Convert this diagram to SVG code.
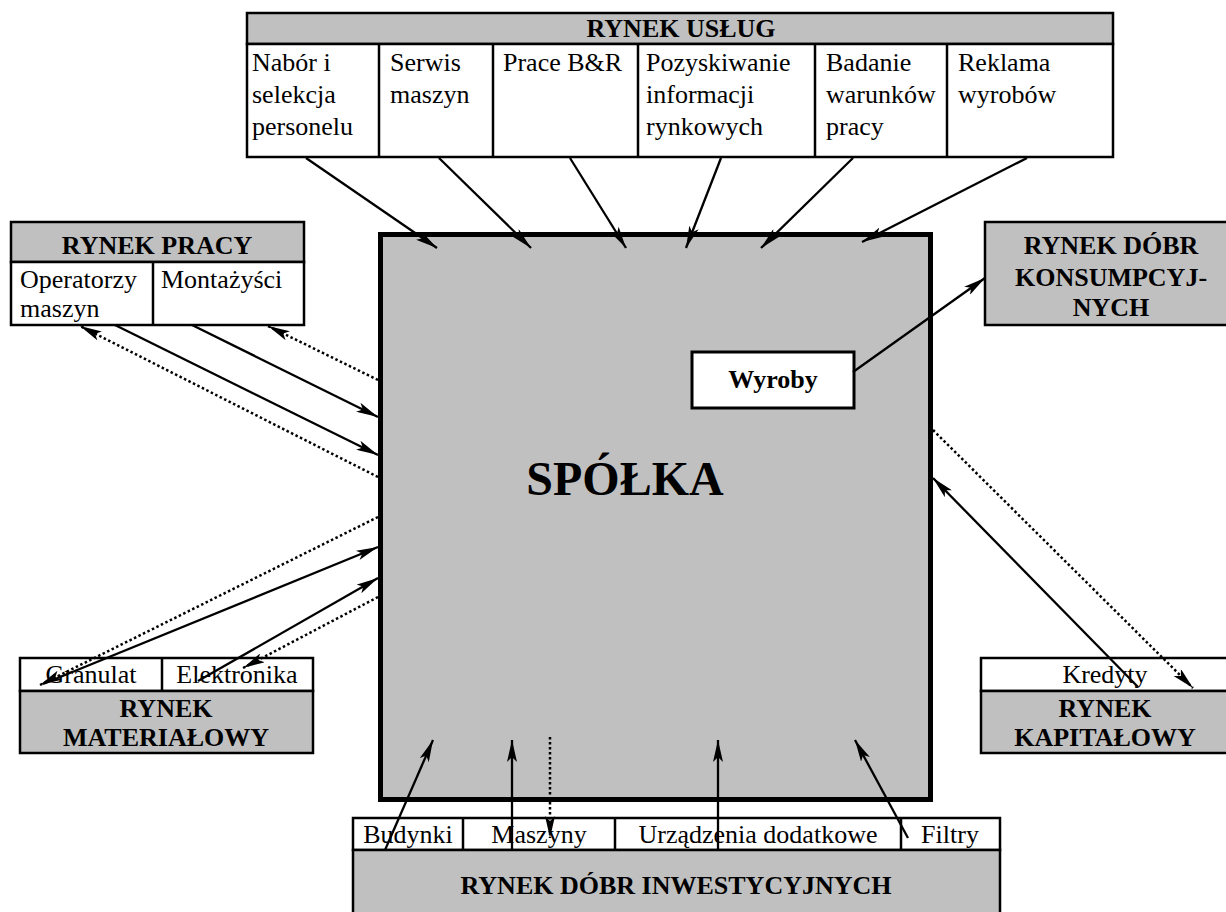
<svg xmlns="http://www.w3.org/2000/svg" width="1226" height="912" viewBox="0 0 1226 912">
<defs>
<marker id="ah" viewBox="0 0 22 10" refX="22" refY="5" markerWidth="22" markerHeight="10" markerUnits="userSpaceOnUse" orient="auto">
<path d="M0,0 L22,5 L0,10 L5,5 z" fill="#000" stroke="none"/>
</marker>
<style>
.t{font-family:"Liberation Serif","Times New Roman",serif;font-size:26px;fill:#000}
.b{font-family:"Liberation Serif","Times New Roman",serif;font-size:26px;font-weight:bold;fill:#000}
.c{text-anchor:middle}
.box{fill:#fff;stroke:#000;stroke-width:2.5}
.gray{fill:#c0c0c0;stroke:#000;stroke-width:2.5}
.ln{stroke:#000;stroke-width:2.5;fill:none}
.s{stroke:#000;stroke-width:2.3;fill:none;marker-end:url(#ah)}
.d{stroke:#000;stroke-width:2.5;fill:none;stroke-dasharray:2.5 2.5;marker-end:url(#ah)}
</style>
</defs>
<rect width="1226" height="912" fill="#fff"/>

<g id="spolka">
<rect x="380.5" y="234.5" width="550" height="565" fill="#c0c0c0" stroke="#000" stroke-width="5"/>
<text class="b c" x="625" y="495" style="font-size:48px">SPÓŁKA</text>
</g>

<g id="wyroby">
<rect x="692" y="352" width="162" height="56" fill="#fff" stroke="#000" stroke-width="3"/>
<text class="b c" x="773" y="388">Wyroby</text>
</g>

<g id="rynek-uslug">
<rect class="gray" x="247" y="13" width="866" height="31"/>
<rect class="box" x="247" y="44" width="866" height="113"/>
<line class="ln" x1="379" y1="44" x2="379" y2="157"/>
<line class="ln" x1="493" y1="44" x2="493" y2="157"/>
<line class="ln" x1="638" y1="44" x2="638" y2="157"/>
<line class="ln" x1="815" y1="44" x2="815" y2="157"/>
<line class="ln" x1="947" y1="44" x2="947" y2="157"/>
<text class="b c" x="681" y="37">RYNEK USŁUG</text>
<text class="t" x="252" y="71">Nabór i</text>
<text class="t" x="252" y="103">selekcja</text>
<text class="t" x="252" y="135">personelu</text>
<text class="t" x="390" y="71">Serwis</text>
<text class="t" x="390" y="103">maszyn</text>
<text class="t" x="503" y="71">Prace B&amp;R</text>
<text class="t" x="646" y="71">Pozyskiwanie</text>
<text class="t" x="646" y="103">informacji</text>
<text class="t" x="646" y="135">rynkowych</text>
<text class="t" x="826" y="71">Badanie</text>
<text class="t" x="826" y="103">warunków</text>
<text class="t" x="826" y="135">pracy</text>
<text class="t" x="958" y="71">Reklama</text>
<text class="t" x="958" y="103">wyrobów</text>
</g>

<g id="rynek-pracy">
<rect class="gray" x="11" y="222" width="293" height="40"/>
<rect class="box" x="11" y="262" width="293" height="63"/>
<line class="ln" x1="153" y1="262" x2="153" y2="325"/>
<text class="b c" x="157" y="254">RYNEK PRACY</text>
<text class="t" x="20" y="288">Operatorzy</text>
<text class="t" x="20" y="317">maszyn</text>
<text class="t" x="161" y="288">Montażyści</text>
</g>

<g id="rynek-materialowy">
<rect class="box" x="20" y="658" width="293" height="33"/>
<rect class="gray" x="20" y="691" width="293" height="62"/>
<line class="ln" x1="162" y1="658" x2="162" y2="691"/>
<text class="t c" x="91" y="683">Granulat</text>
<text class="t c" x="237" y="683">Elektronika</text>
<text class="b c" x="166" y="717">RYNEK</text>
<text class="b c" x="166" y="746">MATERIAŁOWY</text>
</g>

<g id="rynek-konsumpcyjny">
<rect class="gray" x="985" y="222" width="256" height="103"/>
<text class="b c" x="1111" y="254">RYNEK DÓBR</text>
<text class="b c" x="1111" y="286">KONSUMPCYJ-</text>
<text class="b c" x="1111" y="316">NYCH</text>
</g>

<g id="rynek-kapitalowy">
<rect class="box" x="981" y="658" width="255" height="33"/>
<rect class="gray" x="981" y="691" width="255" height="62"/>
<text class="t c" x="1105" y="683">Kredyty</text>
<text class="b c" x="1105" y="717">RYNEK</text>
<text class="b c" x="1105" y="746">KAPITAŁOWY</text>
</g>

<g id="rynek-inwestycyjny">
<rect class="box" x="353" y="818" width="647" height="32"/>
<rect class="gray" x="353" y="850" width="647" height="70"/>
<line class="ln" x1="463" y1="818" x2="463" y2="850"/>
<line class="ln" x1="615" y1="818" x2="615" y2="850"/>
<line class="ln" x1="901" y1="818" x2="901" y2="850"/>
<text class="t c" x="408" y="843">Budynki</text>
<text class="t c" x="539" y="843">Maszyny</text>
<text class="t c" x="758" y="843">Urządzenia dodatkowe</text>
<text class="t c" x="950" y="843">Filtry</text>
<text class="b c" x="676" y="894">RYNEK DÓBR INWESTYCYJNYCH</text>
</g>

<g id="connectors">
<line class="s" x1="306" y1="158" x2="437" y2="248"/>
<line class="s" x1="439" y1="158" x2="531" y2="248"/>
<line class="s" x1="570" y1="158" x2="626" y2="248"/>
<line class="s" x1="721" y1="158" x2="686" y2="248"/>
<line class="s" x1="853" y1="158" x2="761" y2="248"/>
<line class="s" x1="1027" y1="158" x2="862" y2="242"/>

<line class="d" x1="378" y1="380" x2="268" y2="326"/>
<line class="s" x1="192" y1="325" x2="378" y2="417"/>
<line class="s" x1="115" y1="325" x2="378" y2="455"/>
<line class="d" x1="378" y1="477" x2="80" y2="326"/>

<line class="d" x1="378" y1="517" x2="40" y2="685"/>
<line class="s" x1="43" y1="684" x2="378" y2="547"/>
<line class="s" x1="198" y1="681" x2="378" y2="578"/>
<line class="d" x1="378" y1="597" x2="243" y2="668"/>

<line class="s" x1="853" y1="372" x2="985" y2="278"/>
<line class="d" x1="933" y1="430" x2="1193" y2="688"/>
<line class="s" x1="1138" y1="687" x2="933" y2="478"/>

<line class="s" x1="385" y1="850" x2="433" y2="740"/>
<line class="s" x1="512" y1="850" x2="512" y2="740"/>
<line class="d" x1="550" y1="737" x2="550" y2="838"/>
<line class="s" x1="718" y1="850" x2="718" y2="740"/>
<line class="s" x1="908" y1="838" x2="855" y2="740"/>
</g>
</svg>
